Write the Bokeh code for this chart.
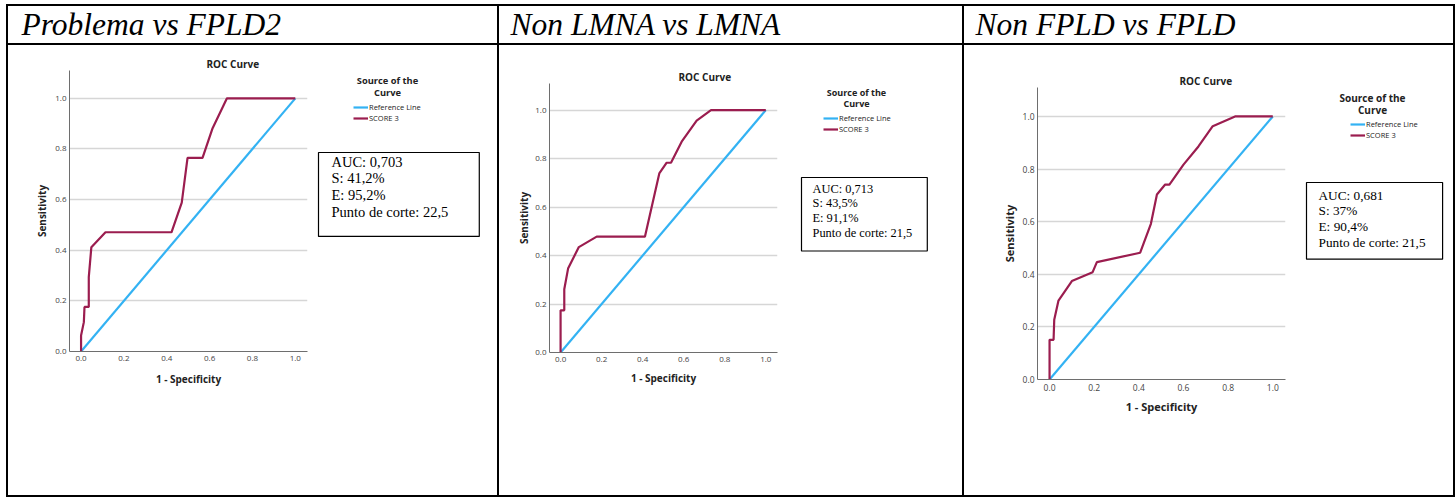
from bokeh.plotting import figure
from bokeh.layouts import row, column
from bokeh.models import Label, Legend, LegendItem, FixedTicker, PrintfTickFormatter, Spacer
from bokeh.embed import file_html
from bokeh.resources import INLINE

# ---------------- data ----------------
headers = ["Problema vs FPLD2", "Non LMNA vs LMNA", "Non FPLD vs FPLD"]
ref_line_x = [0.0, 1.0]
ref_line_y = [0.0, 1.0]

fpr_fpld2 = [0.0, 0.0, 0.013, 0.016, 0.036, 0.036, 0.048, 0.114, 0.422, 0.470, 0.497, 0.567, 0.614, 0.681, 1.0]
tpr_fpld2 = [0.0, 0.063, 0.116, 0.176, 0.176, 0.294, 0.412, 0.471, 0.471, 0.588, 0.765, 0.765, 0.882, 1.0, 1.0]

fpr_lmna = [0.0, 0.0, 0.018, 0.018, 0.037, 0.089, 0.176, 0.411, 0.481, 0.517, 0.538, 0.590, 0.663, 0.733, 1.0]
tpr_lmna = [0.0, 0.174, 0.174, 0.261, 0.348, 0.435, 0.478, 0.478, 0.739, 0.783, 0.783, 0.870, 0.957, 1.0, 1.0]

fpr_fpld = [0.0, 0.0, 0.018, 0.021, 0.040, 0.100, 0.193, 0.212, 0.406, 0.454, 0.481, 0.518, 0.537, 0.600, 0.667, 0.731, 0.831, 1.0]
tpr_fpld = [0.0, 0.151, 0.151, 0.227, 0.300, 0.374, 0.408, 0.446, 0.482, 0.592, 0.703, 0.741, 0.741, 0.817, 0.886, 0.963, 1.0, 1.0]

auc_texts = [
    "AUC: 0,703\nS: 41,2%\nE: 95,2%\nPunto de corte: 22,5",
    "AUC: 0,713\nS: 43,5%\nE: 91,1%\nPunto de corte: 21,5",
    "AUC: 0,681\nS: 37%\nE: 90,4%\nPunto de corte: 21,5",
]
tick_values = [0.0, 0.2, 0.4, 0.6, 0.8, 1.0]
legend_labels = ["Reference Line", "SCORE 3"]
chart_title = "ROC Curve"
legend_title = ["Source of the", "Curve"]
x_label = "1 - Specificity"
y_label = "Sensitivity"

series = [(fpr_fpld2, tpr_fpld2), (fpr_lmna, tpr_lmna), (fpr_fpld, tpr_fpld)]

# ---------------- layout / style ----------------
BLUE = "#33b2f3"
MAROON = "#9b1d4f"
SANS = "Open Sans"
SERIF = "Liberation Serif"
BW = 2
HEADER_H = 37
BODY_H = 450
TOTAL_H = BW + HEADER_H + BW + BODY_H + BW

# W: cell width, Wc: width of the chart part, L/R/T/B: frame edges inside the cell
# pad order: (left, right, top, bottom)
cfg = [
    dict(W=489, Wc=300, L=61, R=299, T=25, B=306, title_off=137, hx=13,
         lt=(79, 415, 403), leg=(45, 372), box=(10, 343),
         box_fs="14.5px", pad=(13, 31, 1, 16), lab_fs="10px", lt_fs="9.3px", tk_fs="8px",
         ylab_so=3, xlab_so=8),
    dict(W=463, Wc=280, L=50, R=278, T=38, B=307, title_off=129, hx=11,
         lt=(77, 403, 392), leg=(44, 361), box=(22, 318),
         box_fs="12.4px", pad=(11, 15, 4, 11), lab_fs="10px", lt_fs="9px", tk_fs="8px",
         ylab_so=1, xlab_so=6),
    dict(W=489, Wc=323, L=73, R=321, T=42, B=334, title_off=142, hx=11,
         lt=(85, 398, 386), leg=(63, 355), box=(19, 313),
         box_fs="13.3px", pad=(12, 17, 5, 9), lab_fs="11px", lt_fs="10px", tk_fs="8.5px",
         ylab_so=3, xlab_so=5),
]


def rule(w, h):
    return Spacer(width=w, height=h, styles={"background-color": "black"})


def blank(w, h, **kw):
    f = figure(width=w, height=h, output_backend="svg", toolbar_location=None,
               x_axis_type=None, y_axis_type=None, min_border=0,
               background_fill_color="white", border_fill_color="white",
               outline_line_color=None, frame_align=False, **kw)
    f.title.visible = False
    return f


def header(w, text, hx):
    f = blank(w, HEADER_H)
    f.add_layout(Label(x=hx, y=19, x_units="screen", y_units="screen", text=text,
                       text_font=SERIF, text_font_style="italic", text_font_size="31.5px",
                       text_color="black", text_baseline="alphabetic", text_align="left"))
    return f


def chart(c, fpr, tpr):
    Wc = c["Wc"]
    p = figure(width=Wc, height=BODY_H, output_backend="svg", toolbar_location=None,
               x_range=(-0.054, 1.057), y_range=(0, 1.11),
               min_border_left=c["L"], min_border_right=Wc - c["R"],
               min_border_top=c["T"], min_border_bottom=BODY_H - c["B"],
               background_fill_color="white", border_fill_color="white",
               outline_line_color=None, frame_align=False)
    p.title.text = chart_title
    p.title.align = "left"
    p.title.offset = c["title_off"]
    p.title.standoff = 0
    p.title.text_font = SANS
    p.title.text_font_style = "bold"
    p.title.text_font_size = "10px"
    p.title.text_color = "#222222"
    for ax in (p.xaxis[0], p.yaxis[0]):
        ax.ticker = FixedTicker(ticks=tick_values)
        ax.formatter = PrintfTickFormatter(format="%.1f")
        ax.major_tick_line_color = None
        ax.minor_tick_line_color = None
        ax.major_tick_out = 0
        ax.major_tick_in = 0
        ax.axis_line_color = "#6e6e6e"
        ax.axis_line_width = 1
        ax.major_label_text_font = SANS
        ax.major_label_text_font_size = c["tk_fs"]
        ax.major_label_text_color = "#444444"
        ax.axis_label_text_font = SANS
        ax.axis_label_text_font_style = "bold"
        ax.axis_label_text_font_size = c["lab_fs"]
        ax.axis_label_text_color = "#222222"
    p.xaxis.axis_label = x_label
    p.yaxis.axis_label = y_label
    p.xaxis.major_label_standoff = 4
    p.xaxis.axis_label_standoff = c["xlab_so"]
    p.yaxis.major_label_standoff = 3
    p.yaxis.axis_label_standoff = c["ylab_so"]
    p.xgrid.visible = False
    p.ygrid.ticker = FixedTicker(ticks=tick_values)
    p.ygrid.grid_line_color = "#d6d6d6"
    p.ygrid.grid_line_width = 1.5

    p.line(ref_line_x, ref_line_y, line_color=BLUE, line_width=2.2)
    p.line(fpr, tpr, line_color=MAROON, line_width=2.2)
    return p


def side(c, fpr, tpr, auc):
    Ws = c["W"] - c["Wc"]
    # legend panel: proxy copies of the two lines, kept outside this panel's visible range
    s = blank(Ws, BODY_H, x_range=(10, 11), y_range=(10, 11))
    r_ref = s.line(ref_line_x, ref_line_y, line_color=BLUE, line_width=2.2)
    r_roc = s.line(fpr, tpr, line_color=MAROON, line_width=2.2)
    leg = Legend(items=[LegendItem(label=legend_labels[0], renderers=[r_ref]),
                        LegendItem(label=legend_labels[1], renderers=[r_roc])],
                 location=c["leg"], label_text_font=SANS, label_text_font_size="7.5px",
                 label_text_color="#222222", label_standoff=1, glyph_width=15,
                 glyph_height=10, label_height=10, spacing=1, padding=0, margin=0,
                 border_line_color=None, background_fill_alpha=0)
    s.add_layout(leg)
    lx, ly1, ly2 = c["lt"]
    for t, yy in zip(legend_title, (ly1, ly2)):
        s.add_layout(Label(x=lx, y=yy, x_units="screen", y_units="screen", text=t,
                           text_font=SANS, text_font_style="bold", text_font_size=c["lt_fs"],
                           text_color="#222222", text_align="center", text_baseline="middle"))
    bx, by = c["box"]
    s.add_layout(Label(x=bx, y=by, x_units="screen", y_units="screen", text=auc,
                       text_font=SERIF, text_font_size=c["box_fs"], text_color="black",
                       text_align="left", text_baseline="top", anchor="top_left",
                       padding=c["pad"], border_line_color="black", border_line_width=1.2,
                       background_fill_color="white", text_line_height=1.06))
    return s


cols = []
for i in range(3):
    c = cfg[i]
    W = c["W"]
    fpr, tpr = series[i]
    body = row(chart(c, fpr, tpr), side(c, fpr, tpr, auc_texts[i]))
    cols.append(column(rule(W, BW), header(W, headers[i], c["hx"]), rule(W, BW), body, rule(W, BW)))

table = row(rule(BW, TOTAL_H), cols[0], rule(BW, TOTAL_H), cols[1],
            rule(BW, TOTAL_H), cols[2], rule(BW, TOTAL_H))

page = column(Spacer(width=10, height=4), row(Spacer(width=6, height=10), table))

open("out.html", "w").write(file_html(page, INLINE))
